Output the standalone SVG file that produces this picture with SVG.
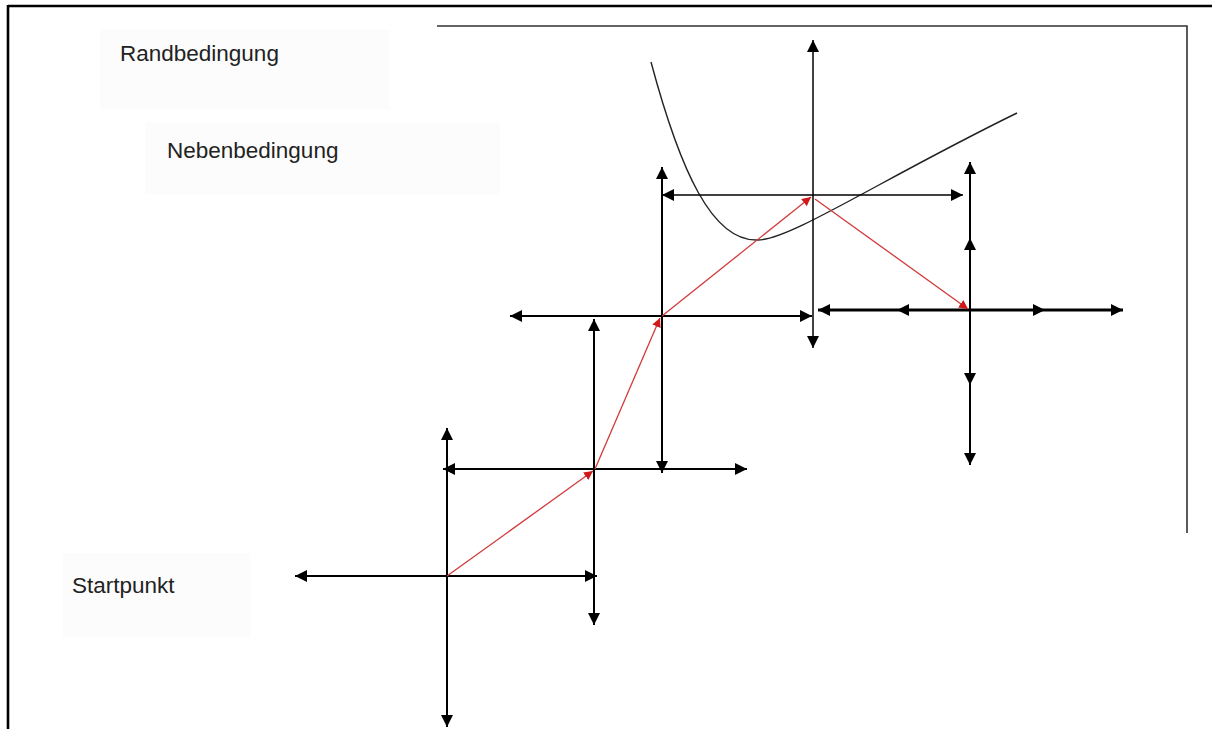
<svg xmlns="http://www.w3.org/2000/svg" width="1212" height="729" viewBox="0 0 1212 729">
  <style>
    .ax { stroke: #000; stroke-width: 2; fill: none; marker-start: url(#ah); marker-end: url(#ah); }
    .ax-thin { stroke-width: 1.5; }
    .ax-bold { stroke-width: 3; }
    .red { stroke: #d23a3a; stroke-width: 1.3; fill: none; marker-end: url(#rh); }
    .lbl { font-family: "Liberation Sans", Arial, sans-serif; font-size: 22.5px; fill: #222; }
    .bg { fill: #fcfcfc; }
    .frame { stroke: #333; stroke-width: 1.6; fill: none; }
    .head { fill: #000; }
  </style>
  <defs>
    <marker id="ah" markerUnits="userSpaceOnUse" markerWidth="13" markerHeight="12" refX="12" refY="6" orient="auto-start-reverse">
      <path d="M0,0 L12,6 L0,12 z" fill="#000"/>
    </marker>
    <marker id="rh" markerUnits="userSpaceOnUse" markerWidth="10" markerHeight="9" refX="9" refY="4.5" orient="auto">
      <path d="M0,0 L9,4.5 L0,9 z" fill="#d01818"/>
    </marker>
  </defs>

  <rect width="1212" height="729" fill="#fff"/>

  <!-- outer border -->
  <g id="border">
    <line x1="8" y1="6" x2="1212" y2="6" stroke="#000" stroke-width="2.6"/>
    <line x1="8" y1="5" x2="8" y2="729" stroke="#000" stroke-width="2.6"/>
  </g>

  <!-- inner frame (Randbedingung) -->
  <g id="randbedingung-frame">
    <polyline class="frame" points="437,26 1187,26 1187,533"/>
  </g>

  <!-- labels -->
  <g id="label-rand">
    <rect class="bg" x="100" y="30" width="290" height="80"/>
    <text class="lbl" x="120" y="61">Randbedingung</text>
  </g>
  <g id="label-neben">
    <rect class="bg" x="145" y="122" width="355" height="72"/>
    <text class="lbl" x="167" y="158">Nebenbedingung</text>
  </g>
  <g id="label-start">
    <rect class="bg" x="63" y="553" width="187" height="85"/>
    <text class="lbl" x="72" y="593">Startpunkt</text>
  </g>

  <!-- constraint curve -->
  <g id="nebenbedingung-curve">
    <path d="M651,62 C680,170 712,242 758,240 C790,240 880,180 1017,113" stroke="#222" stroke-width="1.4" fill="none"/>
  </g>

  <!-- crosses -->
  <g id="cross1">
    <line class="ax" x1="295" y1="576" x2="597" y2="576"/>
    <line class="ax" x1="447" y1="428" x2="447" y2="727"/>
  </g>
  <g id="cross2">
    <line class="ax" x1="443" y1="469" x2="747" y2="469"/>
    <line class="ax" x1="594" y1="319" x2="594" y2="625"/>
  </g>
  <g id="cross3">
    <line class="ax" x1="510" y1="316" x2="812" y2="316"/>
    <line class="ax" x1="662" y1="167" x2="662" y2="473"/>
  </g>
  <g id="cross4">
    <line class="ax ax-thin" x1="662" y1="195" x2="963" y2="195"/>
    <line class="ax ax-thin" x1="813" y1="40" x2="813" y2="348"/>
  </g>
  <g id="cross5">
    <line class="ax ax-bold" x1="818" y1="310" x2="1123" y2="310"/>
    <line class="ax" x1="970" y1="162" x2="970" y2="465"/>
    <polygon class="head" points="897,310 909,304 909,316"/>
    <polygon class="head" points="1045,310 1033,304 1033,316"/>
    <polygon class="head" points="970,238 964,250 976,250"/>
    <polygon class="head" points="970,385 964,373 976,373"/>
  </g>

  <!-- search path connectors -->
  <g id="connectors">
    <line class="red" x1="447" y1="576" x2="593" y2="471"/>
    <line class="red" x1="595" y1="469" x2="660" y2="318"/>
    <line class="red" x1="662" y1="316" x2="811" y2="197"/>
    <line class="red" x1="815" y1="199" x2="968" y2="309"/>
  </g>
</svg>
